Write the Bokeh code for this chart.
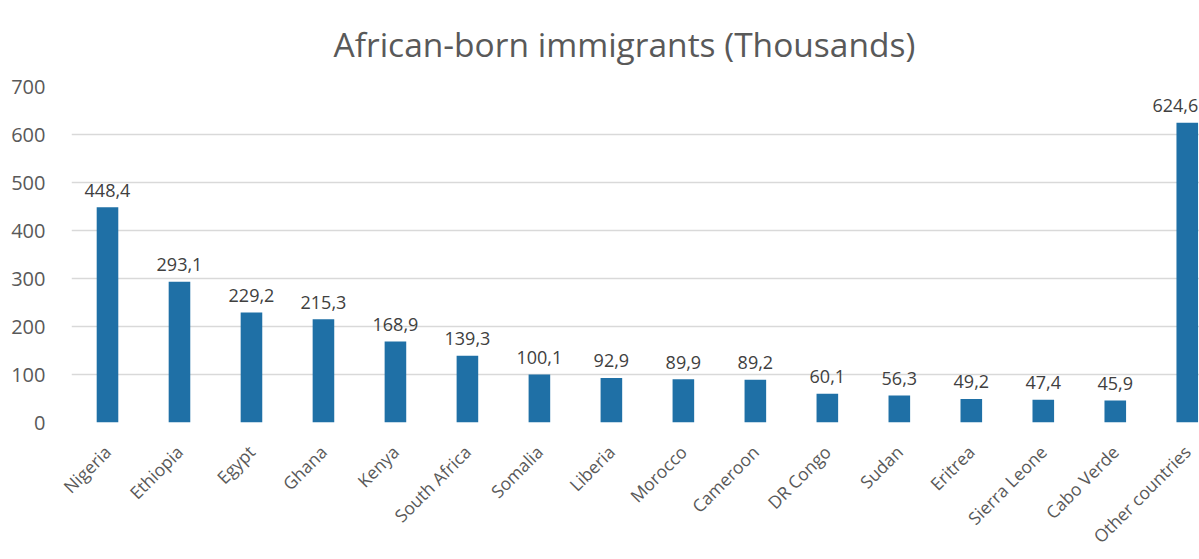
import math
from bokeh.plotting import figure
from bokeh.models import ColumnDataSource, Range1d, FixedTicker, Title
from bokeh.core.properties import value
from bokeh.embed import file_html
from bokeh.resources import INLINE

countries = ["Nigeria", "Ethiopia", "Egypt", "Ghana", "Kenya", "South Africa", "Somalia",
             "Liberia", "Morocco", "Cameroon", "DR Congo", "Sudan", "Eritrea",
             "Sierra Leone", "Cabo Verde", "Other countries"]
immigrants = [448.4, 293.1, 229.2, 215.3, 168.9, 139.3, 100.1, 92.9, 89.9, 89.2,
              60.1, 56.3, 49.2, 47.4, 45.9, 624.6]
y_ticks = [0, 100, 200, 300, 400, 500, 600, 700]

pos = list(range(len(countries)))
labels = [f"{v:.1f}".replace(".", ",") for v in immigrants]
# the last label sits at the right edge of the page: anchor it by its right end so it stays visible
aligns = ["center"] * (len(pos) - 1) + ["right"]
xoffs = [0] * (len(pos) - 1) + [11]
src = ColumnDataSource(dict(x=pos, y=immigrants, lab=labels, al=aligns, xo=xoffs))

FONT = "Open Sans"
p = figure(width=1199, height=559, output_backend="svg", toolbar_location=None,
           x_range=Range1d(-0.5, 15.17), y_range=Range1d(0, 700),
           min_border_left=71, min_border_right=0, min_border_top=86, min_border_bottom=137)
p.title = Title(text="African-born immigrants (Thousands)", align="left",
                text_font=FONT, text_font_size="33.5px", text_font_style="normal",
                text_color="#595959", offset=262, standoff=36, vertical_align="top")
p.outline_line_color = None
p.background_fill_color = "white"

p.vbar(x="x", top="y", width=0.3, source=src, fill_color="#1f70a6", line_color=None)
p.text(x="x", y="y", text="lab", source=src, text_align="al", x_offset="xo",
       text_baseline="alphabetic", y_offset=-17, text_font=value(FONT),
       text_font_size="18px", text_color="#404040")

p.xaxis.ticker = FixedTicker(ticks=pos)
p.xaxis.major_label_overrides = {i: c for i, c in zip(pos, countries)}
p.xaxis.major_label_orientation = math.pi / 4
p.xaxis.major_label_text_font = FONT
p.xaxis.major_label_text_font_size = "17.5px"
p.xaxis.major_label_text_color = "#595959"
p.xaxis.major_label_standoff = 20
p.xaxis.axis_line_color = None
p.xaxis.major_tick_line_color = None
p.xaxis.minor_tick_line_color = None
p.xgrid.grid_line_color = None

p.yaxis.ticker = FixedTicker(ticks=y_ticks)
p.yaxis.major_label_text_font = FONT
p.yaxis.major_label_text_font_size = "20px"
p.yaxis.major_label_text_color = "#595959"
p.yaxis.major_label_standoff = 20
p.yaxis.axis_line_color = None
p.yaxis.major_tick_line_color = None
p.yaxis.minor_tick_line_color = None
p.ygrid.grid_line_color = "#d9d9d9"
p.ygrid.grid_line_width = 1.5

open("out.html", "w").write(file_html(p, INLINE))
